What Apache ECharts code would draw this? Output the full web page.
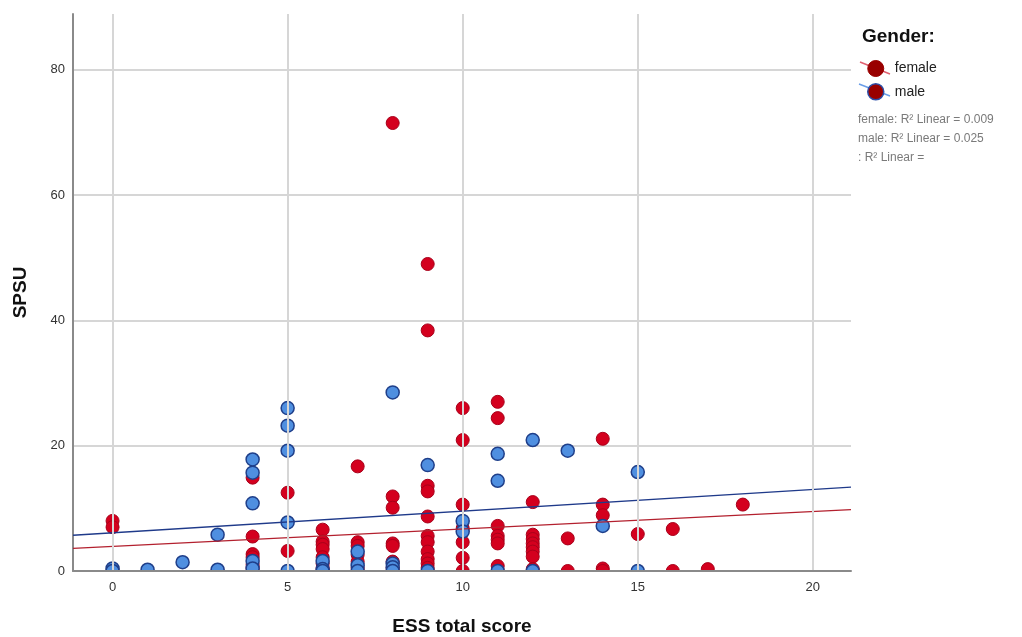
<!DOCTYPE html>
<html>
<head>
<meta charset="utf-8">
<style>
  html, body { margin: 0; padding: 0; background: #fff; }
  #main { width: 1022px; height: 637px; }
</style>
<script src="https://cdn.jsdelivr.net/npm/echarts@6/dist/echarts.min.js"></script>
</head>
<body>
<div id="main"></div>
<script>
// ESS total score / SPSU pairs
var femalePoints = [
  [0, 8.0], [0, 7.0], [0, 0],
  [3, 0],
  [4, 14.9], [4, 5.5], [4, 2.7], [4, 2.2], [4, 1.0], [4, 0.5], [4, 0],
  [5, 12.5], [5, 3.2],
  [6, 6.6], [6, 4.7], [6, 4.2], [6, 3.5], [6, 2.2], [6, 1.2], [6, 0.5], [6, 0],
  [7, 16.7], [7, 4.6], [7, 4.0], [7, 2.6], [7, 1.5], [7, 0.5], [7, 0],
  [8, 71.5], [8, 11.9], [8, 10.1], [8, 4.4], [8, 4.0], [8, 1.5], [8, 0.5], [8, 0],
  [9, 49.0], [9, 38.4], [9, 13.6], [9, 12.7], [9, 8.7], [9, 5.6], [9, 4.6], [9, 3.1], [9, 1.9], [9, 1.2], [9, 0.5], [9, 0],
  [10, 26.0], [10, 20.9], [10, 10.6], [10, 6.8], [10, 4.6], [10, 2.1], [10, 0],
  [11, 27.0], [11, 24.4], [11, 7.2], [11, 5.6], [11, 5.0], [11, 4.4], [11, 0.8], [11, 0],
  [12, 11.0], [12, 5.8], [12, 5.1], [12, 4.4], [12, 3.8], [12, 3.1], [12, 2.3], [12, 0.3],
  [13, 5.2], [13, 0],
  [14, 21.1], [14, 10.6], [14, 8.9], [14, 0.4], [14, 0],
  [15, 5.9],
  [16, 6.7], [16, 0],
  [17, 0.3],
  [18, 10.6]
];
var malePoints = [
  [0, 0.4], [0, 0],
  [1, 0.2],
  [2, 1.4],
  [3, 5.8], [3, 0.2],
  [4, 17.8], [4, 15.7], [4, 10.8], [4, 1.6], [4, 0.4],
  [5, 26.0], [5, 23.2], [5, 19.2], [5, 7.75], [5, 0],
  [6, 1.6], [6, 0.3], [6, 0],
  [7, 3.1], [7, 0.9], [7, 0],
  [8, 28.5], [8, 1.2], [8, 0.6], [8, 0],
  [9, 16.9], [9, 0],
  [10, 8.0], [10, 6.3],
  [11, 18.7], [11, 14.4], [11, 0],
  [12, 20.9], [12, 0],
  [13, 19.2],
  [14, 7.2],
  [15, 15.8], [15, 0]
];
// fit lines: [intercept, slope]
var femaleFit = [3.92, 0.279];
var maleFit = [6.1, 0.346];
var xTicks = [0, 5, 10, 15, 20];
var yTicks = [0, 20, 40, 60, 80];
var xRange = [-1.13, 21.09];
var yRange = [0, 88.9];
var fitNotes = ['female: R² Linear = 0.009', 'male: R² Linear = 0.025', ': R² Linear ='];

function fitLine(f) {
  return xRange.map(function (x) { return [x, f[0] + f[1] * x]; });
}

var myChart = echarts.init(document.getElementById('main'));
var font = 'Liberation Sans, Arial, sans-serif';

var option = {
  backgroundColor: '#ffffff',
  animation: false,
  textStyle: { fontFamily: font },
  grid: { left: 73, right: 171, top: 14, bottom: 66, outerBoundsMode: 'none' },
  xAxis: {
    type: 'value',
    z: 10,
    min: xRange[0],
    max: xRange[1],
    name: 'ESS total score',
    nameLocation: 'middle',
    nameGap: 46,
    nameTextStyle: { fontSize: 19, fontWeight: 'bold', color: '#111', fontFamily: font },
    axisLine: { onZero: false, lineStyle: { color: '#8a8a8a', width: 2 } },
    axisTick: { show: false, customValues: xTicks },
    axisLabel: { customValues: xTicks, color: '#333', fontSize: 13, margin: 10, fontFamily: font },
    splitLine: { show: true, lineStyle: { color: '#d6d6d6', width: 2 } }
  },
  yAxis: {
    type: 'value',
    min: yRange[0],
    max: yRange[1],
    name: 'SPSU',
    nameLocation: 'middle',
    nameGap: 43,
    nameTextStyle: { fontSize: 19, fontWeight: 'bold', color: '#111', fontFamily: font },
    axisLine: { show: true, onZero: false, lineStyle: { color: '#8a8a8a', width: 2 } },
    axisTick: { show: false, customValues: yTicks },
    axisLabel: { customValues: yTicks, color: '#333', fontSize: 13, margin: 8, fontFamily: font },
    splitLine: { show: true, lineStyle: { color: '#d6d6d6', width: 2 } }
  },
  legend: {
    orient: 'vertical',
    left: 862,
    top: 55,
    itemWidth: 16,
    itemHeight: 16,
    itemGap: 6,
    icon: 'circle',
    textStyle: { fontSize: 14, color: '#222', fontFamily: font, padding: [2, 0, 0, 6] },
    data: [
      { name: 'female', itemStyle: { color: '#990000', borderColor: '#990000', borderWidth: 1 } },
      { name: 'male', itemStyle: { color: '#990000', borderColor: '#2c4fa8', borderWidth: 1.5 } }
    ],
    z: 5
  },
  graphic: [
    // points on the zero line are cut by the plot edge
    { type: 'rect', z: 8, shape: { x: 74, y: 572, width: 786, height: 9 }, style: { fill: '#ffffff' } },
    { type: 'text', left: 862, top: 27, z: 5, style: { text: 'Gender:', fontSize: 19, fontWeight: 'bold', fill: '#111', fontFamily: font } },
    { type: 'line', z: 1, shape: { x1: 860, y1: 62, x2: 890, y2: 74 }, style: { stroke: '#e06070', lineWidth: 1.5 } },
    { type: 'line', z: 1, shape: { x1: 859, y1: 84, x2: 890, y2: 96 }, style: { stroke: '#6a9ee8', lineWidth: 1.5 } },
    { type: 'text', left: 858, top: 110, z: 5, style: { text: fitNotes.join('\n'), fontSize: 12, lineHeight: 19, fill: '#7a7a7a', fontFamily: font } }
  ],
  series: [
    {
      name: 'female',
      type: 'scatter',
      symbolSize: 13,
      data: femalePoints,
      itemStyle: { color: '#d4001e', borderColor: '#a8001a', borderWidth: 1, opacity: 1 },
      z: 3
    },
    {
      name: 'male',
      type: 'scatter',
      symbolSize: 13,
      data: malePoints,
      itemStyle: { color: '#4f8fe0', borderColor: '#1f3f8a', borderWidth: 1.5, opacity: 1 },
      z: 4
    },
    {
      name: 'female fit',
      type: 'line',
      data: fitLine(femaleFit),
      symbol: 'none',
      lineStyle: { color: '#b3202e', width: 1.3 },
      z: 5,
      silent: true
    },
    {
      name: 'male fit',
      type: 'line',
      data: fitLine(maleFit),
      symbol: 'none',
      lineStyle: { color: '#1f3a8a', width: 1.3 },
      z: 5,
      silent: true
    }
  ]
};
myChart.setOption(option);

window.onresize = function () {
  myChart.resize();
};
</script>
</body>
</html>
